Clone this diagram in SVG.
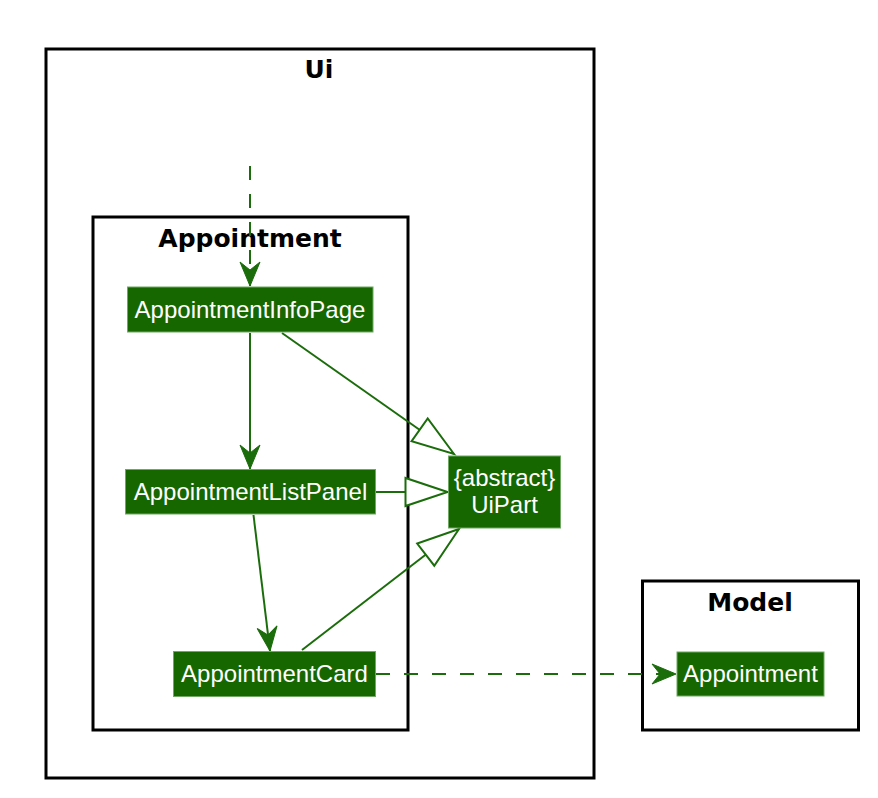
<svg xmlns="http://www.w3.org/2000/svg" width="878" height="798" viewBox="0 0 878 798">
<defs>
<style>
.pkg{fill:none;stroke:#000;stroke-width:3}
.ptitle{font-family:"DejaVu Sans",sans-serif;font-weight:bold;font-size:25px;fill:#000;text-anchor:middle}
.node rect{fill:#176700;stroke:#6fa862;stroke-width:1}
.node text{font-family:"Liberation Sans",Arial,sans-serif;font-size:24px;fill:#fff;text-anchor:middle}
.edge{fill:none;stroke:#1b6c0b;stroke-width:2}
.dash{stroke-dasharray:14,14}
</style>
<marker id="vee" markerUnits="userSpaceOnUse" viewBox="-26 -12 28 24" refX="0" refY="0" markerWidth="28" markerHeight="24" orient="auto" overflow="visible">
<path d="M0,0 L-24,-10 L-16,0 L-24,10 Z" fill="#1b6c0b" stroke="#1b6c0b" stroke-width="1" stroke-linejoin="miter"/>
</marker>
<marker id="tri" markerUnits="userSpaceOnUse" viewBox="-44 -16 46 32" refX="0" refY="0" markerWidth="46" markerHeight="32" orient="auto" overflow="visible">
<path d="M0,0 L-42,-14 L-42,14 Z" fill="#fff" stroke="#1b6c0b" stroke-width="2" stroke-linejoin="miter"/>
</marker>
</defs>
<rect width="878" height="798" fill="#fff"/>

<g id="pkg-ui">
<rect class="pkg" x="46" y="49" width="548" height="729"/>
<text class="ptitle" x="319" y="78">Ui</text>
</g>
<g id="pkg-appointment">
<rect class="pkg" x="93" y="217" width="315" height="513"/>
<text class="ptitle" x="250" y="247">Appointment</text>
</g>
<g id="pkg-model">
<rect class="pkg" x="642.5" y="581" width="216" height="149"/>
<text class="ptitle" x="750" y="611">Model</text>
</g>

<g id="connectors">
<path class="edge dash" d="M250,166 L250,286" marker-end="url(#vee)"/>
<path class="edge" d="M250,333 L250,469" marker-end="url(#vee)"/>
<path class="edge" d="M253.5,515 L270,651" marker-end="url(#vee)"/>
<path class="edge" d="M282,333 L454,454" marker-end="url(#tri)"/>
<path class="edge" d="M375.5,492 L447.5,492" marker-end="url(#tri)"/>
<path class="edge" d="M302,650 L459,529" marker-end="url(#tri)"/>
<path class="edge dash" d="M376,674 L676,674" marker-end="url(#vee)"/>
</g>

<g id="node-appointmentinfopage" class="node">
<rect x="127.5" y="287" width="245.5" height="45"/>
<text x="250" y="318">AppointmentInfoPage</text>
</g>
<g id="node-appointmentlistpanel" class="node">
<rect x="125.5" y="469.5" width="250" height="44.5"/>
<text x="250.5" y="500">AppointmentListPanel</text>
</g>
<g id="node-appointmentcard" class="node">
<rect x="173.5" y="651.5" width="202" height="45"/>
<text x="274.5" y="682">AppointmentCard</text>
</g>
<g id="node-uipart" class="node">
<rect x="448.5" y="456" width="112" height="72"/>
<text x="504.5" y="486">{abstract}</text>
<text x="504.5" y="513">UiPart</text>
</g>
<g id="node-appointment" class="node">
<rect x="677" y="652" width="147" height="44"/>
<text x="750.5" y="682">Appointment</text>
</g>
</svg>
